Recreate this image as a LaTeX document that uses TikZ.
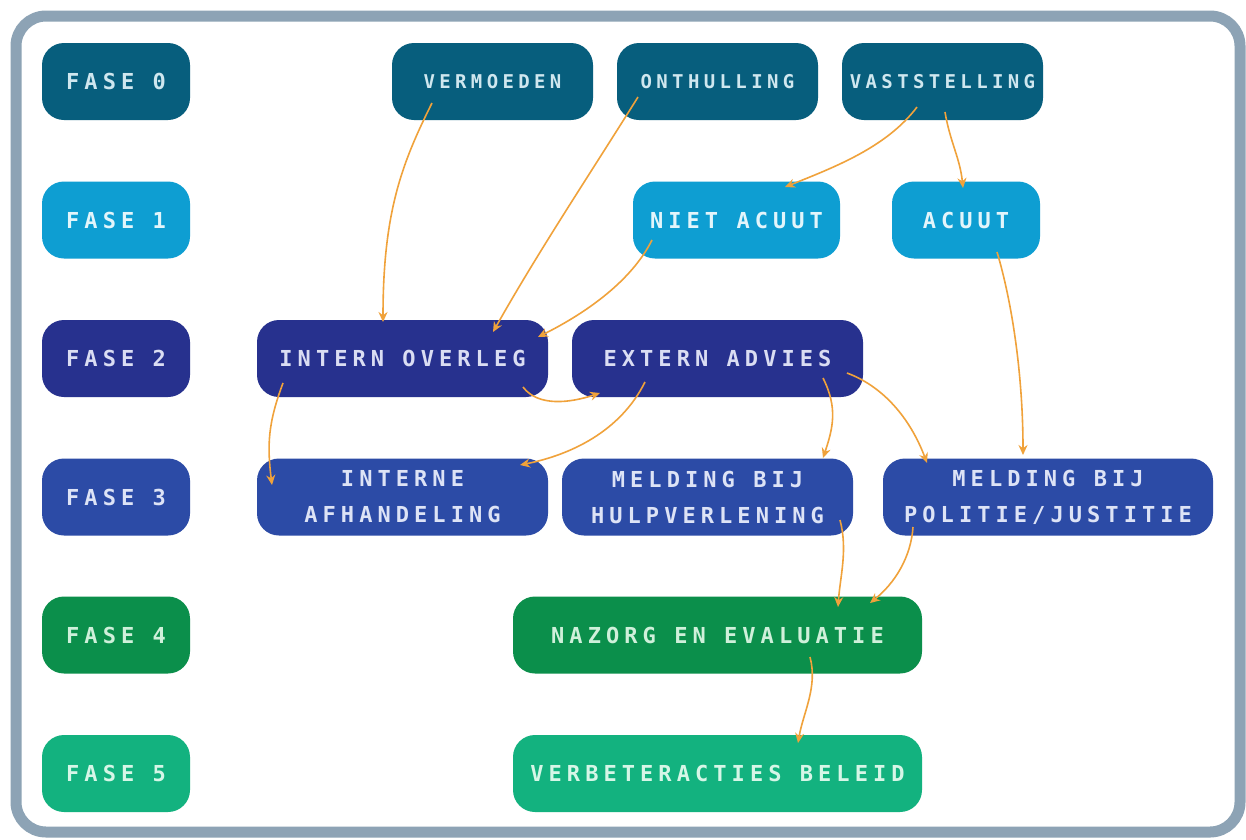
\documentclass[tikz,border=0pt]{standalone}
\usepackage{fontspec}
\usetikzlibrary{arrows.meta}
\newfontfamily\boxfont[LetterSpace=23]{DejaVu Sans Mono}
\definecolor{framec}{HTML}{8DA3B5}
\definecolor{czero}{HTML}{075E7D}
\definecolor{cone}{HTML}{0E9ED2}
\definecolor{ctwo}{HTML}{27318E}
\definecolor{cthree}{HTML}{2C4BA6}
\definecolor{cfour}{HTML}{0B8F4B}
\definecolor{cfive}{HTML}{13B27F}
\definecolor{tzero}{HTML}{CFE7EF}
\definecolor{tone}{HTML}{E2F5FB}
\definecolor{ttwo}{HTML}{DADDF3}
\definecolor{tthree}{HTML}{DDE3F6}
\definecolor{tfour}{HTML}{CFF0DA}
\definecolor{tfive}{HTML}{D6F6E7}
\definecolor{arrowc}{HTML}{F0A23B}
\begin{document}
\begin{tikzpicture}[x=1pt,y=-1pt,
  box/.style={rounded corners=22pt, minimum height=77pt, inner sep=0pt,
    align=center, font=\boxfont\bfseries\fontsize{22pt}{36pt}\selectfont},
  topbox/.style={box, font=\boxfont\bfseries\fontsize{19pt}{36pt}\selectfont},
  rzero/.style={fill=czero, text=tzero},
  rone/.style={fill=cone, text=tone},
  rtwo/.style={fill=ctwo, text=ttwo},
  rthree/.style={fill=cthree, text=tthree},
  rfour/.style={fill=cfour, text=tfour},
  rfive/.style={fill=cfive, text=tfive},
  conn/.style={draw=arrowc, line width=1.6pt, -{Stealth[length=10pt,width=9pt]}}
]
\useasboundingbox (0,0) rectangle (1246,839);
\fill[white] (0,0) rectangle (1246,839);
\draw[framec, line width=11pt, rounded corners=30pt] (16,16) rectangle (1240,832);

% phase labels
\node[box, rzero, minimum width=148pt] (f0) at (116,81.5) {FASE 0};
\node[box, rone, minimum width=148pt] (f1) at (116,220) {FASE 1};
\node[box, rtwo, minimum width=148pt] (f2) at (116,358.5) {FASE 2};
\node[box, rthree, minimum width=148pt] (f3) at (116,497) {FASE 3};
\node[box, rfour, minimum width=148pt] (f4) at (116,635) {FASE 4};
\node[box, rfive, minimum width=148pt] (f5) at (116,773.5) {FASE 5};

% row 0
\node[topbox, rzero, minimum width=201pt] (verm) at (492.5,81.5) {VERMOEDEN};
\node[topbox, rzero, minimum width=201pt] (onth) at (717.5,81.5) {ONTHULLING};
\node[topbox, rzero, minimum width=201pt] (vast) at (942.5,81.5) {VASTSTELLING};
% row 1
\node[box, rone, minimum width=207pt] (niet) at (736.5,220) {NIET ACUUT};
\node[box, rone, minimum width=148pt] (acuut) at (966,220) {ACUUT};
% row 2
\node[box, rtwo, minimum width=291pt] (intov) at (402.5,358.5) {INTERN OVERLEG};
\node[box, rtwo, minimum width=291pt] (extadv) at (717.5,358.5) {EXTERN ADVIES};
% row 3
\node[box, rthree, minimum width=291pt] (intafh) at (402.5,497) {INTERNE\\AFHANDELING};
\node[box, rthree, minimum width=291pt] (mhulp) at (707.5,497) {MELDING BIJ\\HULPVERLENING};
\node[box, rthree, minimum width=330pt] (mpol) at (1048,497) {MELDING BIJ\\POLITIE/JUSTITIE};
% row 4-5
\node[box, rfour, minimum width=409pt] (nazorg) at (717.5,635) {NAZORG EN EVALUATIE};
\node[box, rfive, minimum width=409pt] (verb) at (717.5,773.5) {VERBETERACTIES BELEID};

% connectors
\draw[conn] ([shift={(-60.5,21.5)}]verm.center) .. controls +(-30,60) and +(0,-110) .. ([shift={(-19.5,-36.5)}]intov.center);
\draw[conn] ([shift={(-79.5,15.5)}]onth.center) .. controls +(-50,80) and +(45,-80) .. ([shift={(90.5,-26.5)}]intov.center);
\draw[conn] ([shift={(-25.5,25.5)}]vast.center) .. controls +(-30,40) and +(50,-20) .. ([shift={(48.5,-33)}]niet.center);
\draw[conn] ([shift={(2.5,30.5)}]vast.center) .. controls +(5,30) and +(-3,-30) .. ([shift={(-3,-32)}]acuut.center);
\draw[conn] ([shift={(-84.5,20)}]niet.center) .. controls +(-20,40) and +(50,-25) .. ([shift={(135.5,-21.5)}]intov.center);
\draw[conn] ([shift={(31,32)}]acuut.center) .. controls +(15,50) and +(0,-80) .. ([shift={(-25,-42)}]mpol.center);
\draw[conn] ([shift={(120.5,28.5)}]intov.center) .. controls +(15,20) and +(-30,10) .. ([shift={(-117.5,34.5)}]extadv.center);
\draw[conn] ([shift={(-72.5,23.5)}]extadv.center) .. controls +(-25,50) and +(50,-10) .. ([shift={(117.5,-32)}]intafh.center);
\draw[conn] ([shift={(-119.5,24.5)}]intov.center) .. controls +(-15,40) and +(-5,-40) .. ([shift={(-130.5,-12)}]intafh.center);
\draw[conn] ([shift={(105.5,19.5)}]extadv.center) .. controls +(15,30) and +(10,-30) .. ([shift={(115.5,-39)}]mhulp.center);
\draw[conn] ([shift={(129.5,14.5)}]extadv.center) .. controls +(40,15) and +(-15,-40) .. ([shift={(-121,-34)}]mpol.center);
\draw[conn] ([shift={(132.5,23)}]mhulp.center) .. controls +(8,30) and +(2,-30) .. ([shift={(120.5,-28)}]nazorg.center);
\draw[conn] ([shift={(-135,30)}]mpol.center) .. controls +(-2,30) and +(25,-20) .. ([shift={(152.5,-32)}]nazorg.center);
\draw[conn] ([shift={(92.5,22)}]nazorg.center) .. controls +(8,30) and +(5,-30) .. ([shift={(80.5,-30.5)}]verb.center);
\end{tikzpicture}
\end{document}
